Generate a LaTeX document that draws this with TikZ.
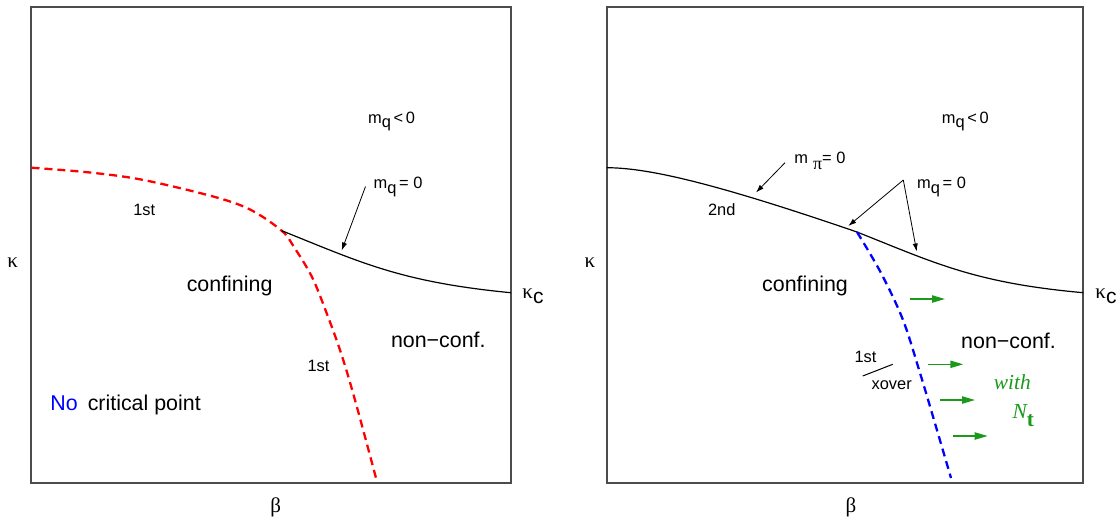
\documentclass[tikz,border=0pt]{standalone}
\usepackage{fontspec}
\setmainfont{Liberation Sans}
\newfontfamily\serifgrk{Liberation Serif}
\usetikzlibrary{arrows.meta}
\definecolor{critred}{HTML}{FF0000}
\definecolor{xovblue}{HTML}{0000FF}
\definecolor{ntgreen}{HTML}{1A991A}
\newcommand\mq{m\raisebox{-.55ex}{q}}

\tikzset{
  frame/.style={draw=black!70, line width=1pt},
  big/.style={inner sep=0pt, font=\fontsize{10.7}{12}\selectfont},
  small/.style={inner sep=0pt, font=\fontsize{8.2}{10}\selectfont},
  grk/.style={inner sep=0pt, font=\fontsize{10.5}{12}\serifgrk},
  green/.style={inner sep=0pt, text=ntgreen, font=\fontsize{10.7}{12}\serifgrk\itshape},
  firstorder/.style={draw=critred, line width=1.15pt, dash pattern=on 4pt off 2.5pt},
  xoverline/.style={draw=xovblue, line width=1.15pt, dash pattern=on 4pt off 2.5pt},
  mline/.style={draw=black, line width=0.6pt},
  pointer/.style={draw=black, line width=0.4pt, -{Latex[length=4pt,width=2.6pt]}},
  flow/.style={draw=ntgreen, line width=0.8pt, -{Triangle[length=6.5pt,width=3.6pt]}}
}

\begin{document}
\begin{tikzpicture}[x=0.5pt,y=-0.5pt]
  \useasboundingbox (0,0) rectangle (1117,521);

  % left panel
  \draw[frame] (31,6.7) rectangle (510.8,483.3);
  \coordinate (Lcrit) at (281.7,230.7);
  \coordinate (Lkc) at (510.8,292.7);
  \draw[firstorder] plot[smooth, tension=0.55] coordinates {(31.5,167.7) (90,172.5)
    (143.6,180) (215,197) (251,210) (281.7,230.7) (294,247) (312,277) (326.6,313)
    (341,353) (355,400) (376,478)};
  \draw[mline] (Lcrit) .. controls (360,262) and (400,282) .. (Lkc);
  \coordinate (Ltail) at (365.5,186.5);
  \coordinate (Ltip) at (341.7,250.5);
  \draw[pointer] (Ltail) -- (Ltip);

  \node[small] (Lmqneg) at (391.6,121.5) {\mq\,<\,0};
  \node[small, anchor=west] (Lmqzero) at (373.3,187) {\mq\,= 0};
  \node[small] (Lfirst) at (144.2,210) {1st};
  \node[small] (Lfirstb) at (318.5,366) {1st};
  \node[big] (Lconf) at (229.6,286) {confining};
  \node[big] (Lnonconf) at (438.3,340) {non−conf.};
  \node[big, anchor=base west] (Lnocp) at (50,410) {\textcolor{xovblue}{No}\hspace{5pt}critical point};
  \node[grk] (Lkappa) at (12.6,263) {κ};
  \node[grk] (Lkappac) at (533,296.5) {κ\raisebox{-.5ex}{\rmfamily c}};
  \node[grk] (Lbeta) at (275.7,507) {β};

  % right panel
  \draw[frame] (606.5,6.7) rectangle (1083.3,483.3);
  \coordinate (Rstart) at (606.5,167.7);
  \coordinate (Rcrit) at (857,232);
  \coordinate (Rkc) at (1083.3,292.7);
  \draw[mline] (Rstart) .. controls (650,167.7) and (720,185) .. (Rcrit)
    .. controls (935,263) and (975,283) .. (Rkc);
  \draw[xoverline] plot[smooth, tension=0.55] coordinates {(857,232) (881,273)
    (903,320) (920,373) (934,420) (951,478)};

  \coordinate (Rpitail) at (785,162.7);
  \coordinate (Rpitip) at (756,192.5);
  \draw[pointer] (Rpitail) -- (Rpitip);
  \coordinate (Rapex) at (903.3,180);
  \coordinate (Rtipa) at (848.3,226);
  \coordinate (Rtipb) at (916.7,251.5);
  \draw[pointer] (Rapex) -- (Rtipa);
  \draw[pointer] (Rapex) -- (Rtipb);

  \foreach \y/\x [count=\i] in {299/910, 364.3/928.3, 400/940, 436/952.7} {
    \coordinate (flow\i a) at (\x,\y);
    \coordinate (flow\i b) at (\x+35,\y);
    \draw[flow] (flow\i a) -- (flow\i b);
  }
  \coordinate (Rslasha) at (862.7,376);
  \coordinate (Rslashb) at (892.7,364.3);
  \draw[line width=0.5pt] (Rslasha) -- (Rslashb);

  \node[small] (Rmqneg) at (965.3,121.5) {\mq\,<\,0};
  \node[small, anchor=west] (Rmpi) at (794,160.8) {m\hspace{2.5pt}\raisebox{-.65ex}{\fontsize{9}{10}\serifgrk π}= 0};
  \node[small, anchor=west] (Rmqzero) at (916.7,187) {\mq\,= 0};
  \node[small] (Rsecond) at (721.7,210) {2nd};
  \node[big] (Rconf) at (805,286) {confining};
  \node[big] (Rnonconf) at (1008.5,340.7) {non−conf.};
  \node[small] (Rfirst) at (865.5,356.7) {1st};
  \node[small] (Rxover) at (891.7,385) {xover};
  \node[green] (Rwith) at (1012.3,381.7) {with};
  \node[green] (RNt) at (1023.3,416) {N\raisebox{-.8ex}{\upshape\bfseries t}};
  \node[grk] (Rkappa) at (590,263) {κ};
  \node[grk] (Rkappac) at (1106,296.5) {κ\raisebox{-.5ex}{\rmfamily c}};
  \node[grk] (Rbeta) at (851,507) {β};
\end{tikzpicture}
\end{document}
